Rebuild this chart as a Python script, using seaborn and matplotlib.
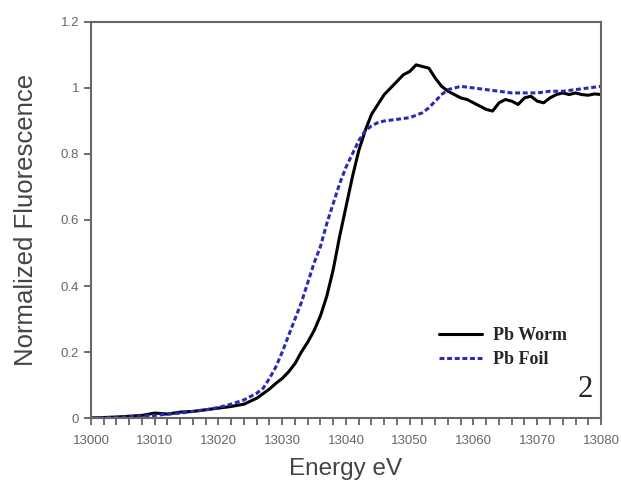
import numpy as np
import pandas as pd
import matplotlib
matplotlib.use('Agg')
import matplotlib.pyplot as plt
import seaborn as sns

# Pb L3-edge XANES
worm_energy = [13000, 13004, 13008, 13010, 13012, 13014, 13016, 13018, 13020, 13022,
               13024, 13026, 13028, 13029, 13030, 13031, 13032, 13033, 13034, 13035,
               13036, 13037, 13038, 13039, 13040, 13041, 13042, 13043, 13044, 13045,
               13046, 13047, 13048, 13049, 13050, 13051, 13052, 13053, 13054, 13055,
               13056, 13057, 13058, 13059, 13060, 13061, 13062, 13063, 13064, 13065,
               13066, 13067, 13068, 13069, 13070, 13071, 13072, 13073, 13074, 13075,
               13076, 13077, 13078, 13079, 13080]
worm_value = [0.0, 0.003, 0.008, 0.015, 0.012, 0.018, 0.02, 0.025, 0.03, 0.035,
              0.042, 0.06, 0.088, 0.105, 0.12, 0.14, 0.165, 0.2, 0.23, 0.265,
              0.31, 0.37, 0.45, 0.55, 0.64, 0.73, 0.81, 0.87, 0.92, 0.95,
              0.98, 1.0, 1.02, 1.04, 1.05, 1.07, 1.065, 1.06, 1.03, 1.005,
              0.99, 0.98, 0.97, 0.965, 0.955, 0.945, 0.935, 0.93, 0.955, 0.965,
              0.96, 0.95, 0.97, 0.975, 0.96, 0.955, 0.97, 0.98, 0.985, 0.98,
              0.985, 0.98, 0.978, 0.982, 0.98]

foil_energy = [13000, 13005, 13010, 13014, 13018, 13020, 13022, 13024, 13026, 13027,
               13028, 13029, 13030, 13031, 13032, 13033, 13034, 13035, 13036, 13037,
               13038, 13039, 13040, 13041, 13042, 13043, 13044, 13045, 13046, 13048,
               13050, 13052, 13053, 13054, 13055, 13056, 13058, 13060, 13062, 13064,
               13066, 13068, 13070, 13072, 13074, 13076, 13078, 13080]
foil_value = [0.0, 0.003, 0.008, 0.015, 0.025, 0.032, 0.042, 0.055, 0.075, 0.09,
              0.12, 0.155, 0.2, 0.25, 0.3, 0.35, 0.41, 0.47, 0.52, 0.59,
              0.65, 0.71, 0.76, 0.80, 0.84, 0.87, 0.885, 0.895, 0.90, 0.905,
              0.91, 0.925, 0.94, 0.96, 0.98, 0.995, 1.005, 1.0, 0.995, 0.99,
              0.985, 0.985, 0.985, 0.99, 0.99, 0.995, 1.0, 1.005]

worm = pd.DataFrame({'energy': worm_energy, 'value': worm_value})
foil = pd.DataFrame({'energy': foil_energy, 'value': foil_value})

sns.set_style('ticks')
plt.rcParams['font.family'] = ['Liberation Sans', 'DejaVu Sans']

fig = plt.figure(figsize=(6.21, 4.88), dpi=100)
ax = fig.add_axes([0.1465, 0.1434, 0.8213, 0.8116])

sns.lineplot(x='energy', y='value', data=worm, ax=ax, color='black', lw=2.2,
             label='Pb Worm')
sns.lineplot(x='energy', y='value', data=foil, ax=ax, color='#2a2ab4', lw=2.2,
             label='Pb Foil')
ax.lines[1].set_dashes((1.6, 0.9))

ax.set_xlim(13000, 13080)
ax.set_ylim(0, 1.2)
ax.set_xticks(np.arange(13000, 13081, 10))
ax.set_xticks(np.arange(13000, 13081, 2), minor=True)
ax.set_yticks([0, 0.2, 0.4, 0.6, 0.8, 1.0, 1.2])
ax.set_yticklabels(['0', '0.2', '0.4', '0.6', '0.8', '1', '1.2'])
ax.tick_params(which='both', direction='out', length=5, width=1.2,
               color='#555555', labelsize=9.5, labelcolor='#666666')
ax.tick_params(axis='x', pad=7)

for s in ax.spines.values():
    s.set_color('#666666')
    s.set_linewidth(1.5)

ax.set_xlabel('Energy eV', fontsize=17.5, color='#444444', labelpad=8)
ax.set_ylabel('Normalized Fluorescence', fontsize=18.5, color='#444444', labelpad=16)

leg = ax.legend(loc='lower right', bbox_to_anchor=(0.965, 0.085), frameon=False,
                handlelength=2.4, handletextpad=0.6, labelspacing=0.4,
                prop={'family': 'Liberation Serif', 'weight': 'bold', 'size': 13})

ax.text(0.985, 0.035, '2', transform=ax.transAxes, ha='right', va='bottom',
        fontsize=22, family='Liberation Serif')

fig.savefig('out.png', dpi=100)
